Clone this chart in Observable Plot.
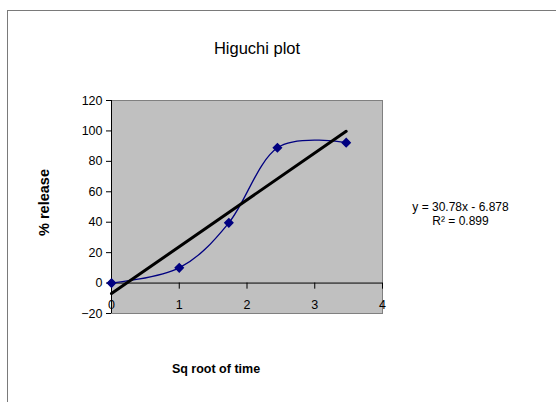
<!DOCTYPE html>
<html>
<head>
<meta charset="utf-8">
<script src="https://cdn.jsdelivr.net/npm/d3@7"></script>
<script src="https://cdn.jsdelivr.net/npm/@observablehq/plot@0.6"></script>
<style>
  html, body { margin: 0; padding: 0; width: 556px; height: 402px; overflow: hidden; background: #fff; }
  #chart { position: absolute; left: 0; top: 0; }
  #chart-border {
    position: absolute; left: 7px; top: 10px; width: 700px; height: 600px;
    border: 1px solid #7a7a7a; pointer-events: none; background: transparent;
  }
</style>
</head>
<body>
<div id="chart"></div>
<div id="chart-border"></div>
<script>
// Higuchi release data: square root of time vs cumulative % release
const sqrtTime = [0, 1, 1.732, 2.449, 3.464];
const release = [0, 10, 39.6, 88.9, 92.3];

// Least-squares trend line reported on the chart
const slope = 30.78;
const intercept = -6.878;
const rSquared = 0.899;

const xTicks = [0, 1, 2, 3, 4];
const yTicks = [-20, 0, 20, 40, 60, 80, 100, 120];

const points = sqrtTime.map((x, i) => ({x, y: release[i]}));
const xEnd = d3.max(sqrtTime);
const trend = [
  {x: 0, y: intercept},
  {x: xEnd, y: slope * xEnd + intercept}
];
const equation = `y = ${slope}x - ${Math.abs(intercept)}\nR² = ${rSquared}`;

const chart = Plot.plot({
  width: 556,
  height: 402,
  marginLeft: 111,
  marginRight: 174,
  marginTop: 100,
  marginBottom: 89,
  style: {fontFamily: "'Liberation Sans', Arial, sans-serif", fontSize: "12px", color: "#000", background: "transparent"},
  x: {domain: [0, 4], axis: null},
  y: {domain: [-20, 120], axis: null},
  marks: [
    Plot.frame({fill: "#c0c0c0", stroke: "#808080"}),
    Plot.axisY(yTicks, {anchor: "left", label: null, tickSize: 5, tickPadding: 4, stroke: "#000", fill: "#000", fontSize: 12.5}),
    Plot.ruleX([0], {stroke: "#000", strokeWidth: 1}),
    Plot.ruleY([0], {stroke: "#000", strokeWidth: 1}),
    Plot.ruleX(xTicks, {x: d => d, y1: 0, y2: -4, stroke: "#000"}),
    Plot.text(xTicks, {x: d => d, frameAnchor: "bottom", dy: -5, text: d => String(d), fontSize: 12.5, fill: "#000"}),
    Plot.line(points, {x: "x", y: "y", curve: "cardinal", stroke: "#000080", strokeWidth: 1.3}),
    Plot.line(trend, {x: "x", y: "y", stroke: "#000", strokeWidth: 3}),
    Plot.dot(points, {x: "x", y: "y", symbol: "diamond2", r: 3.6, fill: "#000080", stroke: "#000080"}),
    Plot.text([equation], {frameAnchor: "right", textAnchor: "middle", dx: 78, dy: 6.7, lineHeight: 1.17, fontSize: 12, fill: "#000"}),
    Plot.text(["Higuchi plot"], {frameAnchor: "top", dx: 10, dy: -58, fontSize: 16.5, fill: "#000"}),
    Plot.text(["Sq root of time"], {frameAnchor: "bottom", dx: -31, dy: 59, fontSize: 12.5, fontWeight: "bold", fill: "#000"}),
    Plot.text(["% release"], {frameAnchor: "left", textAnchor: "middle", rotate: -90, dx: -67, dy: -4.5, fontSize: 14.5, fontWeight: "bold", fill: "#000"})
  ]
});

document.getElementById("chart").append(chart);
</script>
</body>
</html>
